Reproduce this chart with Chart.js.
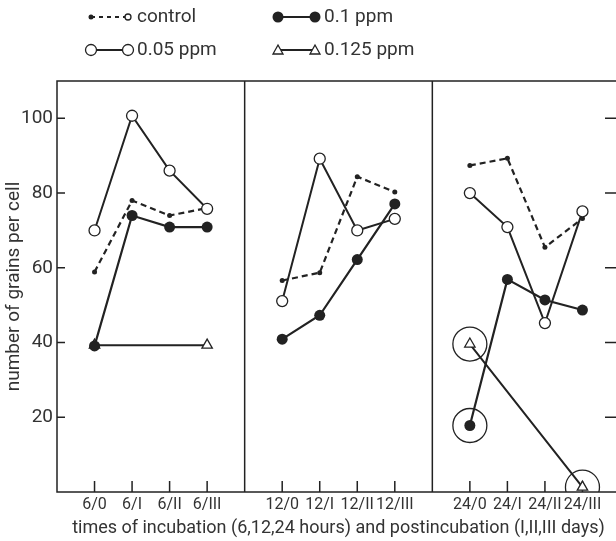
<!DOCTYPE html>
<html>
<head>
<meta charset="utf-8">
<script src="https://cdn.jsdelivr.net/npm/chart.js@4.4.1/dist/chart.umd.min.js"></script>
<style>
  html, body { margin: 0; padding: 0; background: #fff; overflow: hidden; }
  #wrap { width: 640px; height: 541px; }
</style>
</head>
<body>
<div id="wrap"><canvas id="chart" width="640" height="541"></canvas></div>
<script>
// grains per cell
const categories = ['6/0', '6/I', '6/II', '6/III', '12/0', '12/I', '12/II', '12/III', '24/0', '24/I', '24/II', '24/III'];
const control = [58.9, 78.0, 74.0, 76.0, 56.6, 58.7, 84.4, 80.3, 87.4, 89.3, 65.5, 73.2];
const ppm005 = [70.0, 100.7, 86.0, 75.8, 51.1, 89.2, 70.0, 73.1, 80.0, 70.9, 45.2, 75.1];
const ppm01 = [39.1, 74.0, 70.9, 70.9, 40.9, 47.3, 62.2, 77.1, 17.8, 56.9, 51.4, 48.7];
const ppm0125 = [39.3, null, null, 39.3, null, null, null, null, 39.6, null, null, 1.3];
const circled01 = ['24/0'];
const circled0125 = ['24/0', '24/III'];
const yTicks = [20, 40, 60, 80, 100];

const ink = '#222';
const FONT = 'Roboto, "DejaVu Sans", sans-serif';

// 4 times per panel, one empty slot between panels
function xPos(i) { return i + 1 + Math.floor(i / 4); }
const dividers = [5, 10];

function series(values) {
  const pts = [];
  values.forEach((v, i) => {
    if (i > 0 && i % 4 === 0) pts.push({x: xPos(i) - 1, y: null});
    if (v !== null) pts.push({x: xPos(i), y: v});
  });
  return pts;
}
function marks(names, values) {
  return names.map(n => {
    const i = categories.indexOf(n);
    return {x: xPos(i), y: values[i]};
  });
}

const frame = {
  id: 'frame',
  beforeDatasetsDraw(chart) {
    const {ctx, chartArea: a, scales: {x, y}} = chart;
    ctx.save();
    ctx.strokeStyle = ink;
    ctx.lineWidth = 1.5;
    ctx.strokeRect(a.left, a.top, a.right - a.left, a.bottom - a.top);
    ctx.beginPath();
    dividers.forEach(d => {
      const px = x.getPixelForValue(d);
      ctx.moveTo(px, a.top); ctx.lineTo(px, a.bottom);
    });
    categories.forEach((c, i) => {
      const px = x.getPixelForValue(xPos(i));
      ctx.moveTo(px, a.bottom); ctx.lineTo(px, a.bottom - 11);
    });
    yTicks.forEach(t => {
      const py = y.getPixelForValue(t);
      ctx.moveTo(a.left, py); ctx.lineTo(a.left + 8, py);
      ctx.moveTo(a.right, py); ctx.lineTo(a.right - 15, py);
    });
    ctx.stroke();
    ctx.restore();
  }
};

function drawMarker(ctx, kind, px, py) {
  ctx.beginPath();
  if (kind === 'dot') {
    ctx.arc(px, py, 2.5, 0, Math.PI * 2);
    ctx.fillStyle = ink; ctx.fill();
  } else if (kind === 'small') {
    ctx.arc(px, py, 3, 0, Math.PI * 2);
    ctx.fillStyle = '#fff'; ctx.fill(); ctx.stroke();
  } else if (kind === 'open') {
    ctx.arc(px, py, 5.5, 0, Math.PI * 2);
    ctx.fillStyle = '#fff'; ctx.fill(); ctx.stroke();
  } else if (kind === 'filled') {
    ctx.arc(px, py, 5.5, 0, Math.PI * 2);
    ctx.fillStyle = ink; ctx.fill();
  } else {
    ctx.moveTo(px, py - 5); ctx.lineTo(px + 5, py + 4); ctx.lineTo(px - 5, py + 4); ctx.closePath();
    ctx.fillStyle = '#fff'; ctx.fill(); ctx.stroke();
  }
}

const keyBox = {
  id: 'keyBox',
  afterDraw(chart) {
    const ctx = chart.ctx;
    const items = [
      {text: 'control', x: 91, y: 17, dash: [4, 4], a: 'dot', b: 'small'},
      {text: '0.1 ppm', x: 278, y: 17, dash: [], a: 'filled', b: 'filled'},
      {text: '0.05 ppm', x: 91, y: 50, dash: [], a: 'open', b: 'open'},
      {text: '0.125 ppm', x: 278, y: 50, dash: [], a: 'tri', b: 'tri'}
    ];
    ctx.save();
    items.forEach(it => {
      ctx.strokeStyle = ink;
      ctx.lineWidth = 2;
      ctx.setLineDash(it.dash);
      ctx.beginPath(); ctx.moveTo(it.x, it.y); ctx.lineTo(it.x + 37, it.y); ctx.stroke();
      ctx.setLineDash([]);
      ctx.lineWidth = 1.3;
      drawMarker(ctx, it.a, it.x, it.y);
      drawMarker(ctx, it.b, it.x + 37, it.y);
      ctx.fillStyle = '#333';
      ctx.font = '19px ' + FONT;
      ctx.textBaseline = 'middle';
      ctx.fillText(it.text, it.x + 46, it.y);
    });
    ctx.restore();
  }
};

const lineBase = {borderColor: ink, pointBorderColor: ink, spanGaps: false, tension: 0};

new Chart(document.getElementById('chart'), {
  type: 'line',
  data: {
    datasets: [
      Object.assign({label: '0.05 ppm', data: series(ppm005), borderWidth: 2,
        pointRadius: 5.5, pointBorderWidth: 1.3, pointBackgroundColor: '#fff', order: 1}, lineBase),
      Object.assign({label: 'control', data: series(control), borderWidth: 2.2, borderDash: [6, 4],
        pointRadius: 2.5, pointBorderWidth: 0, pointBackgroundColor: ink, order: 3}, lineBase),
      Object.assign({label: '0.1 ppm', data: series(ppm01), borderWidth: 2.2,
        pointRadius: 5.5, pointBorderWidth: 0, pointBackgroundColor: ink, order: 2}, lineBase),
      Object.assign({label: '0.125 ppm', data: series(ppm0125), borderWidth: 2,
        pointStyle: 'triangle', pointRadius: 6, pointBorderWidth: 1.3, pointBackgroundColor: '#fff', order: 4}, lineBase),
      Object.assign({label: 'circled', data: marks(circled01, ppm01).concat(marks(circled0125, ppm0125)),
        showLine: false, pointRadius: 17, pointBorderWidth: 1.3, pointBackgroundColor: 'rgba(0,0,0,0)', order: 5}, lineBase)
    ]
  },
  options: {
    responsive: false,
    animation: false,
    devicePixelRatio: 1,
    layout: {padding: {top: 81, right: 20, left: 0, bottom: 0}},
    plugins: {legend: {display: false}, tooltip: {enabled: false}},
    scales: {
      x: {
        type: 'linear', min: 0, max: 15,
        afterFit(s) { s.height = 49; },
        afterBuildTicks(s) { s.ticks = categories.map((c, i) => ({value: xPos(i)})); },
        grid: {display: false, drawTicks: false},
        border: {display: false},
        ticks: {
          autoSkip: false, maxRotation: 0, padding: 3, color: '#333',
          font: {family: FONT, size: 16},
          callback(v) { const i = categories.findIndex((c, k) => xPos(k) === v); return i >= 0 ? categories[i] : ''; }
        },
        title: {display: true, text: 'times of incubation (6,12,24 hours) and postincubation (I,II,III days)',
          color: '#333', font: {family: FONT, size: 18}, padding: {top: 0, bottom: 2}}
      },
      y: {
        min: 0, max: 110,
        afterFit(s) { s.width = 57; },
        afterBuildTicks(s) { s.ticks = yTicks.map(v => ({value: v})); },
        grid: {display: false, drawTicks: false},
        border: {display: false},
        ticks: {padding: 4, color: '#333', font: {family: FONT, size: 19}},
        title: {display: true, text: 'number of grains per cell', color: '#333',
          font: {family: FONT, size: 19}, padding: {top: 3, bottom: 0}}
      }
    }
  },
  plugins: [frame, keyBox]
});
</script>
</body>
</html>
